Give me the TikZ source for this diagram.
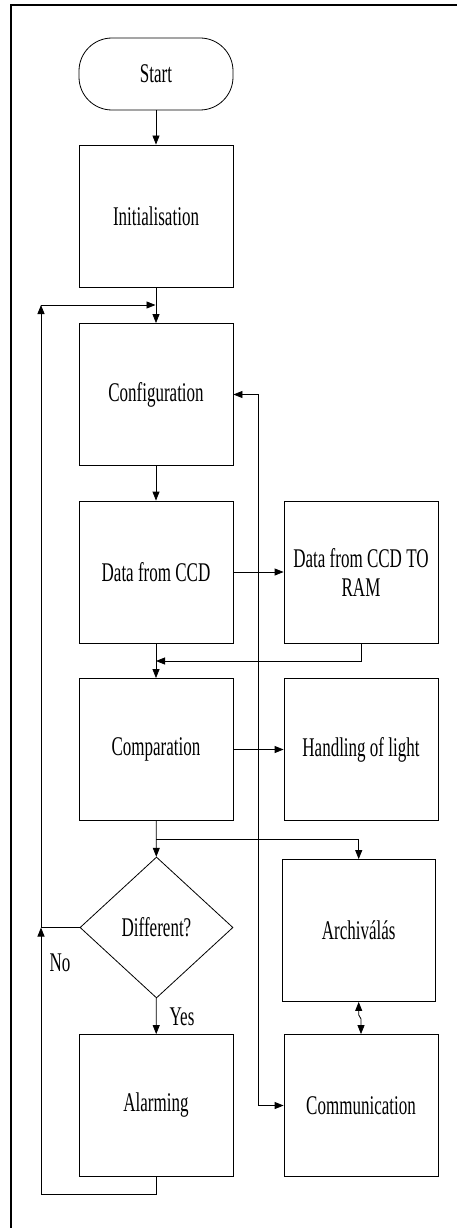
\documentclass[tikz,border=0pt]{standalone}
\usepackage{fontspec}
\setmainfont{Liberation Serif}[FakeStretch=0.63]
\usetikzlibrary{shapes.geometric,arrows.meta}
\begin{document}
\begin{tikzpicture}[x=1pt,y=-1pt,
  txt/.style={font=\fontsize{27}{29}\selectfont},
  box/.style={txt,draw,line width=0.8pt,minimum width=154pt,minimum height=142pt,inner sep=0pt,align=center},
  term/.style={txt,draw,line width=0.8pt,minimum width=154pt,minimum height=72pt,rounded corners=33pt,inner sep=0pt},
  dia/.style={txt,draw,diamond,line width=0.8pt,minimum width=153pt,minimum height=141pt,inner sep=0pt},
  lbl/.style={txt,inner sep=0pt},
  arr/.style={line width=0.8pt,-{Triangle[length=9pt,width=7pt]}},
  arrb/.style={line width=0.8pt,{Triangle[length=9pt,width=7pt]}-{Triangle[length=9pt,width=7pt]}}]
\useasboundingbox (0,0) rectangle (457,1228);
\draw[line width=2.5pt] (457,5) -- (11,5) -- (11,1228);

\node[term] (start) at (156,74) {Start};
\node[box] (init) at (156,216) {Initialisation};
\node[box] (conf) at (156,394.5) {Configuration};
\node[box] (ccd) at (156,572) {Data from CCD};
\node[box] (ram) at (361,572) {Data from CCD TO\\RAM};
\node[box] (cmp) at (156,749.5) {Comparation};
\node[box] (light) at (361,749.5) {Handling of light};
\node[dia] (diff) at (156.5,927.5) {Different?};
\node[box,minimum width=153pt] (arch) at (358.7,930.5) {Archiválás};
\node[box] (alarm) at (156,1105.5) {Alarming};
\node[box] (comm) at (361,1105.5) {Communication};
\node[lbl] (yes) at (182,1017) {Yes};
\node[lbl] (no) at (60,963) {No};

\coordinate (L1) at (41,305);
\coordinate (J1) at (155.5,305);
\coordinate (L2) at (41,927.5);
\coordinate (L3) at (41,1194);
\coordinate (R1) at (258,394.5);
\coordinate (R2) at (258,1105.5);
\coordinate (M) at (156,661);
\coordinate (B) at (156,839);

\draw[arr] (start) -- (init);
\draw[arr] (init) -- (conf);
\draw[arr] (conf) -- (ccd);
\draw[arr] (ccd) -- (ram);
\draw[arr] (ccd) -- (cmp);
\draw[arr] (ram.south) |- (M);
\draw[arr] (cmp) -- (light);
\draw[arr] (cmp) -- (diff);
\draw[arr] (B) -| (arch.north);
\draw[arr] (diff) -- (alarm);
\draw[arr] (diff.west) -- (L2) -- (L1);
\draw[arr] (L1) -- (J1);
\draw[arr] (alarm.south) -- (alarm.south |- L3) -- (L3) -- (L2);
\draw[arrb] (conf.east) -- (R1) -- (R2) -- (comm.west);
\draw[arrb] (arch.south) -- ++(0,13) -- ++(2.3,4) -- (comm.north);
\end{tikzpicture}
\end{document}
